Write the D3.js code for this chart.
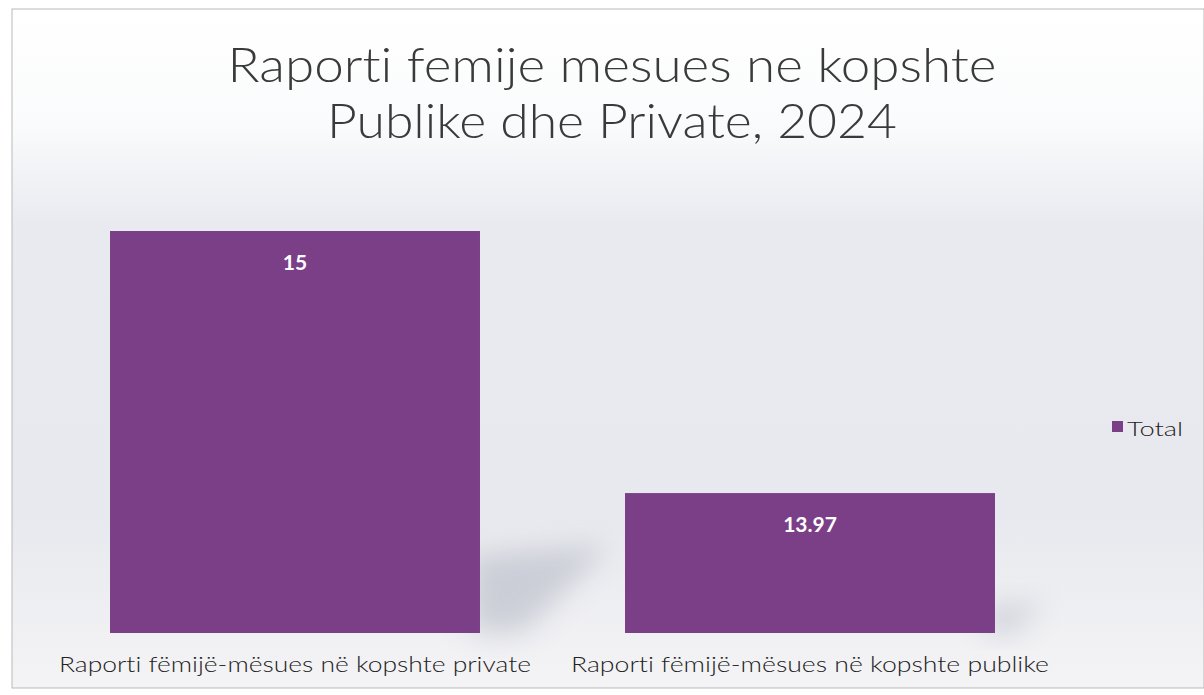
<html>
<head>
  <meta charset="utf-8">
  <title>Raporti femije mesues</title>
  <script src="https://d3js.org/d3.v7.min.js"></script>
  <style>
    body { margin:0; background:#fff; overflow:hidden; }
    text { font-family: "Century Gothic", "Lato", "Open Sans", sans-serif; font-variant-ligatures: none; font-feature-settings: "liga" 0, "clig" 0; }
  </style>
</head>
<body>
  <svg id="chart" width="1204" height="695"></svg>
<script>
  // chart data
  var categories = ["Raporti fëmijë-mësues në kopshte private", "Raporti fëmijë-mësues në kopshte publike"];
  var values = [15, 13.97];
  var valueLabels = ["15", "13.97"];
  var titleLines = ["Raporti femije mesues ne kopshte", "Publike dhe Private, 2024"];
  var seriesName = "Total";

  var W = 1204, H = 695;
  var barColor = "#7b3f88";
  var svg = d3.select("#chart");
  var defs = svg.append("defs");

  // background gradient
  var bg = defs.append("linearGradient").attr("id", "bg")
    .attr("x1", 0).attr("y1", 0).attr("x2", 0).attr("y2", 1);
  bg.append("stop").attr("offset", "0").attr("stop-color", "#ffffff");
  bg.append("stop").attr("offset", "0.17").attr("stop-color", "#fafbfc");
  bg.append("stop").attr("offset", "0.32").attr("stop-color", "#e9eaf0");
  bg.append("stop").attr("offset", "0.75").attr("stop-color", "#e8e9ee");
  bg.append("stop").attr("offset", "1").attr("stop-color", "#f4f4f6");

  defs.append("filter").attr("id", "blur")
    .attr("x", "-50%").attr("y", "-50%").attr("width", "200%").attr("height", "200%")
    .append("feGaussianBlur").attr("stdDeviation", 14);

  svg.append("rect").attr("x", 12).attr("y", 9).attr("width", W - 12).attr("height", 679)
    .attr("fill", "url(#bg)").attr("stroke", "#b9b9b9").attr("stroke-width", 1);

  // scales
  var x = d3.scaleBand().domain(categories)
    .range([37.5, 1067.5]).paddingInner(0.2816).paddingOuter(0.1408);
  var y = d3.scaleLinear().domain([13.42, 15]).range([633, 231]);

  // soft shadows behind bars
  svg.selectAll(".shadow").data(categories).enter().append("polygon")
    .attr("class", "shadow")
    .attr("points", function(d, i) {
      var xr = x(d) + x.bandwidth();
      var top = i == 0 ? 545 : 600;
      var reach = i == 0 ? 130 : 50;
      return [[xr - 10, 633], [xr - 10, top + 10], [xr + reach, top], [xr + reach / 3, 633]].join(" ");
    })
    .attr("fill", "#a4a8b8").attr("opacity", 0.45).attr("filter", "url(#blur)");

  // bars
  svg.selectAll(".bar").data(categories).enter().append("rect")
    .attr("class", "bar")
    .attr("x", function(d) { return x(d); })
    .attr("width", x.bandwidth())
    .attr("y", function(d, i) { return y(values[i]); })
    .attr("height", function(d, i) { return y.range()[0] - y(values[i]); })
    .attr("fill", barColor);

  // value labels
  svg.selectAll(".vlabel").data(categories).enter().append("text")
    .attr("class", "vlabel")
    .attr("x", function(d) { return x(d) + x.bandwidth() / 2; })
    .attr("y", function(d, i) { return y(values[i]) + 39; })
    .attr("text-anchor", "middle")
    .style("font-size", "21px").style("font-weight", "bold").style("fill", "#ffffff")
    .text(function(d, i) { return valueLabels[i]; });

  // category axis labels
  svg.selectAll(".clabel").data(categories).enter().append("text")
    .attr("class", "clabel")
    .attr("x", function(d) { return x(d) + x.bandwidth() / 2; })
    .attr("y", 672)
    .attr("text-anchor", "middle")
    .attr("textLength", function(d, i) { return i == 0 ? 472 : 478; })
    .attr("lengthAdjust", "spacingAndGlyphs")
    .style("font-size", "22px").style("font-weight", 300).style("fill", "#222")
    .text(function(d) { return d; });

  // title
  svg.selectAll(".title").data(titleLines).enter().append("text")
    .attr("class", "title")
    .attr("x", 612)
    .attr("y", function(d, i) { return 82 + i * 56; })
    .attr("text-anchor", "middle")
    .attr("textLength", function(d, i) { return i == 0 ? 769 : 570; })
    .attr("lengthAdjust", "spacingAndGlyphs")
    .style("font-size", "48px").style("font-weight", 300).style("fill", "#3a3a3a")
    .text(function(d) { return d; });

  // legend
  var lg = svg.append("g").attr("transform", "translate(1112,421)");
  lg.append("rect").attr("width", 11).attr("height", 11).attr("fill", barColor);
  lg.append("text").attr("x", 15).attr("y", 15)
    .attr("textLength", 56).attr("lengthAdjust", "spacingAndGlyphs")
    .style("font-size", "20px").style("font-weight", 300).style("fill", "#222").text(seriesName);
</script>
</body>
</html>
